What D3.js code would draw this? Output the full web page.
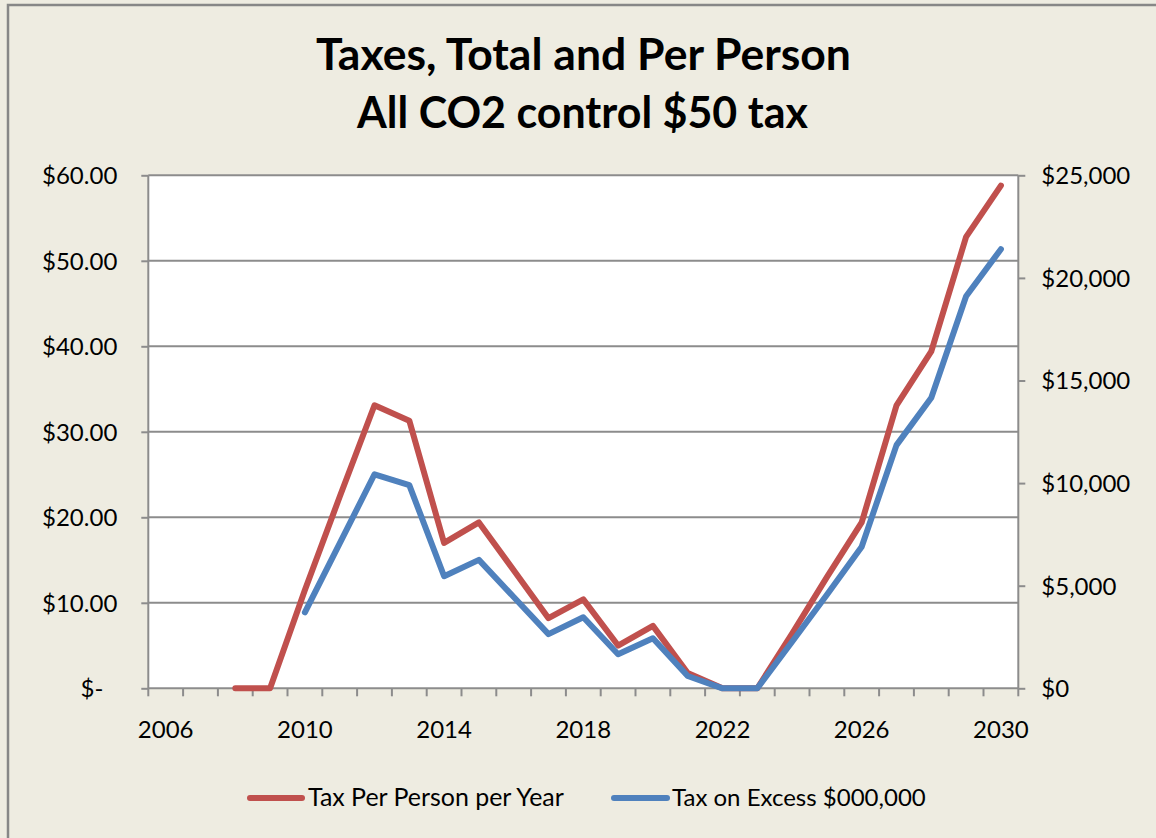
<!DOCTYPE html>
<html>
<head>
<meta charset="utf-8">
<script src="https://cdn.jsdelivr.net/npm/d3@7"></script>
<style>
  html, body { margin: 0; padding: 0; background: #EEECE1; }
  svg { display: block; }
  text { font-family: Lato, "Open Sans", sans-serif; fill: #000; }
</style>
</head>
<body>
<svg id="chart" width="1156" height="838"></svg>
<script>
const years = d3.range(2006, 2031).map(String);
const perPerson = [null, null, 0, 0, 11.5, 22.4, 33.1, 31.3, 17.0, 19.4, 13.8, 8.2, 10.4, 5.0, 7.3, 1.8, 0, 0, 6.4, 13.0, 19.4, 33.1, 39.4, 52.8, 58.8];
const totalTax = [null, null, null, null, 3700, 7060, 10430, 9900, 5460, 6260, 4450, 2640, 3460, 1660, 2440, 600, 0, 0, 2270, 4560, 6900, 11850, 14160, 19110, 21400];
const leftTicks = [0, 10, 20, 30, 40, 50, 60];
const rightTicks = [0, 5000, 10000, 15000, 20000, 25000];
const xLabelYears = ["2006", "2010", "2014", "2018", "2022", "2026", "2030"];
const titleLines = ["Taxes, Total and Per Person", "All CO2 control $50 tax"];
const seriesNames = ["Tax Per Person per Year", "Tax on Excess $000,000"];
const colors = ["#C0504D", "#4F81BD"];

const svg = d3.select("#chart");
const W = 1156, H = 838;
const plot = { left: 148.3, right: 1018.3, top: 175.3, bottom: 688.3 };

svg.append("rect").attr("x", 8).attr("y", 5).attr("width", W + 10).attr("height", H + 10)
  .attr("fill", "#EEECE1").attr("stroke", "#878787").attr("stroke-width", 2.5);

svg.append("rect").attr("x", plot.left).attr("y", plot.top)
  .attr("width", plot.right - plot.left).attr("height", plot.bottom - plot.top).attr("fill", "#fff");

const x = d3.scaleBand().domain(years).range([plot.left, plot.right]).padding(0);
const yL = d3.scaleLinear().domain([0, 60]).range([plot.bottom, plot.top]);
const yR = d3.scaleLinear().domain([0, 25000]).range([plot.bottom, plot.top]);

const gridColor = "#8C8C8C";
const tickFont = 24;
svg.append("g").selectAll("line").data(leftTicks.filter(d => d > 0)).join("line")
  .attr("x1", plot.left).attr("x2", plot.right)
  .attr("y1", d => yL(d)).attr("y2", d => yL(d))
  .attr("stroke", gridColor).attr("stroke-width", 2);

const fitText = (sel, target) => {
  const w = sel.node().getComputedTextLength();
  const fs = parseFloat(sel.attr("font-size"));
  sel.attr("font-size", fs * target / w);
};

const fmtL = d => d === 0 ? "$-" : "$" + d3.format(".2f")(d);
const gL = svg.append("g").attr("transform", `translate(${plot.left},0)`)
  .call(d3.axisLeft(yL).tickValues(leftTicks).tickFormat(fmtL).tickSize(7).tickPadding(24));
gL.select(".domain").attr("stroke", gridColor).attr("stroke-width", 2).attr("d", `M0,${plot.top}V${plot.bottom}`);
gL.selectAll(".tick line").attr("stroke", gridColor).attr("stroke-width", 2);
gL.selectAll(".tick text").attr("font-size", tickFont).attr("font-family", "Lato, sans-serif").attr("fill", "#000").attr("dy", "0.35em");
gL.selectAll(".tick text").filter(d => d === 0).attr("dx", -14);

const fmtR = d => "$" + d3.format(",")(d);
const gR = svg.append("g").attr("transform", `translate(${plot.right},0)`)
  .call(d3.axisRight(yR).tickValues(rightTicks).tickFormat(fmtR).tickSize(7).tickPadding(16));
gR.select(".domain").attr("stroke", gridColor).attr("stroke-width", 2).attr("d", `M0,${plot.top}V${plot.bottom}`);
gR.selectAll(".tick line").attr("stroke", gridColor).attr("stroke-width", 2);
gR.selectAll(".tick text").attr("font-size", tickFont).attr("font-family", "Lato, sans-serif").attr("fill", "#000").attr("dy", "0.35em");

const gX = svg.append("g").attr("transform", `translate(0,${plot.bottom})`);
gX.append("line").attr("x1", plot.left).attr("x2", plot.right).attr("y1", 0).attr("y2", 0)
  .attr("stroke", gridColor).attr("stroke-width", 2);
const boundaries = years.map(y => x(y)).concat([plot.right]);
gX.selectAll("line.tk").data(boundaries).join("line").attr("class", "tk")
  .attr("x1", d => d).attr("x2", d => d).attr("y1", 0).attr("y2", 8)
  .attr("stroke", gridColor).attr("stroke-width", 2);
gX.selectAll("text").data(xLabelYears).join("text")
  .attr("x", d => x(d) + x.bandwidth() / 2).attr("y", 50)
  .attr("text-anchor", "middle").attr("font-size", tickFont).text(d => d);

const makeLine = (vals, scale) => d3.line()
  .defined(d => d.v !== null)
  .x(d => x(d.year) + x.bandwidth() / 2)
  .y(d => scale(d.v))(years.map((year, i) => ({ year, v: vals[i] })));

[[perPerson, yL], [totalTax, yR]].forEach(([vals, scale], i) => {
  svg.append("path").attr("d", makeLine(vals, scale))
    .attr("fill", "none").attr("stroke", colors[i]).attr("stroke-width", 6)
    .attr("stroke-linejoin", "round").attr("stroke-linecap", "round");
});

const t1 = svg.append("text").attr("x", 583.5).attr("y", 70).attr("text-anchor", "middle")
  .attr("font-weight", "bold").attr("font-size", 40).text(titleLines[0]);
fitText(t1, 535);
const t2 = svg.append("text").attr("x", 582.5).attr("y", 128).attr("text-anchor", "middle")
  .attr("font-weight", "bold").attr("font-size", 40).text(titleLines[1]);
fitText(t2, 451);

const legendItems = [
  { lx1: 250, lx2: 302, tx: 308, tw: 256 },
  { lx1: 614, lx2: 667, tx: 672, tw: 254 }
];
legendItems.forEach((it, i) => {
  svg.append("line").attr("x1", it.lx1).attr("x2", it.lx2).attr("y1", 798).attr("y2", 798)
    .attr("stroke", colors[i]).attr("stroke-width", 6).attr("stroke-linecap", "round");
  const t = svg.append("text").attr("x", it.tx).attr("y", 806).attr("font-size", 22).text(seriesNames[i]);
  fitText(t, it.tw);
});
</script>
</body>
</html>
